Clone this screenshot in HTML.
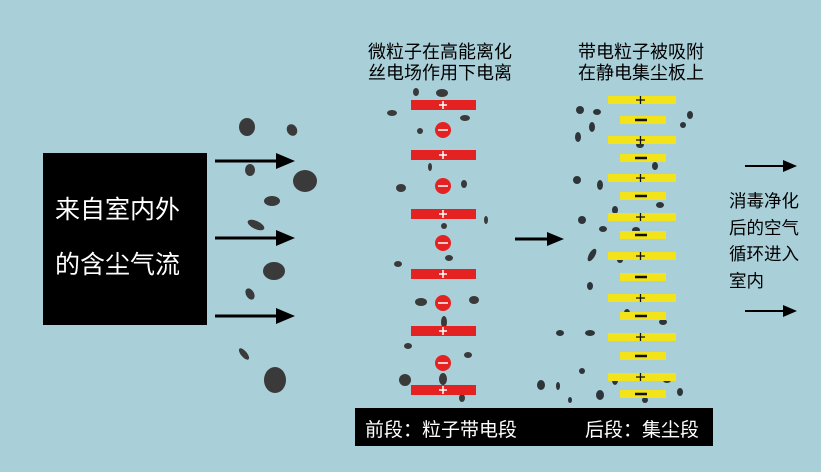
<!DOCTYPE html>
<html><head><meta charset="utf-8"><style>
html,body{margin:0;padding:0}
body{width:821px;height:472px;background:#a9cfd9;position:relative;overflow:hidden;font-family:"Liberation Sans","Noto Sans CJK SC",sans-serif}
.t{position:absolute;white-space:nowrap;color:#000}
</style></head><body>
<svg width="821" height="472" style="position:absolute;left:0;top:0">
<rect x="43" y="153" width="164" height="172" fill="#000"/>
<g stroke="#000" stroke-width="3" fill="#000">
<line x1="215" y1="161" x2="280" y2="161"/><path d="M276,153 L295,161 L276,169z" stroke="none"/>
<line x1="215" y1="238" x2="280" y2="238"/><path d="M276,230 L295,238 L276,246z" stroke="none"/>
<line x1="215" y1="316" x2="280" y2="316"/><path d="M276,308 L295,316 L276,324z" stroke="none"/>
<line x1="515" y1="239" x2="550" y2="239"/><path d="M547,232 L564,239 L547,246z" stroke="none"/>
<line x1="745" y1="166" x2="786" y2="166" stroke-width="2"/><path d="M783,160 L797,166 L783,172z" stroke="none"/>
<line x1="745" y1="311" x2="786" y2="311" stroke-width="2"/><path d="M783,305 L797,311 L783,317z" stroke="none"/>
</g>
<g fill="#3a3a3a">
<ellipse cx="247" cy="127" rx="8" ry="9"/><ellipse cx="292" cy="130" rx="5" ry="6" transform="rotate(-30 292 130)"/>
<ellipse cx="250" cy="170" rx="5" ry="6"/><ellipse cx="305" cy="181" rx="12" ry="11"/>
<ellipse cx="272" cy="201" rx="8" ry="5"/><ellipse cx="256" cy="225" rx="9" ry="4" transform="rotate(25 256 225)"/>
<ellipse cx="274" cy="271" rx="11" ry="9"/><ellipse cx="250" cy="294" rx="4" ry="6" transform="rotate(-30 250 294)"/>
<ellipse cx="244" cy="354" rx="3" ry="7" transform="rotate(-40 244 354)"/><ellipse cx="275" cy="380" rx="11" ry="13"/>
<ellipse cx="416" cy="92" rx="3" ry="4"/><ellipse cx="442" cy="93" rx="6" ry="4"/><ellipse cx="392" cy="113" rx="5" ry="3"/><ellipse cx="465" cy="118" rx="5" ry="3"/>
<ellipse cx="420" cy="131" rx="3" ry="3"/><ellipse cx="401" cy="188" rx="5" ry="4"/><ellipse cx="464" cy="184" rx="3" ry="4"/><ellipse cx="430" cy="167" rx="2" ry="4"/>
<ellipse cx="398" cy="264" rx="4" ry="3"/><ellipse cx="449" cy="258" rx="4" ry="3"/><ellipse cx="421" cy="302" rx="6" ry="4"/><ellipse cx="474" cy="300" rx="5" ry="4"/>
<ellipse cx="444" cy="322" rx="3" ry="6"/><ellipse cx="408" cy="346" rx="4" ry="3"/><ellipse cx="468" cy="355" rx="4" ry="3"/><ellipse cx="405" cy="380" rx="6" ry="6"/><ellipse cx="443" cy="379" rx="4" ry="6"/>
<ellipse cx="462" cy="398" rx="3" ry="4"/><ellipse cx="444" cy="226" rx="3" ry="3"/><ellipse cx="486" cy="220" rx="2" ry="4"/>
</g>
<g fill="#2e3538">
<ellipse cx="580" cy="110" rx="4" ry="4"/><ellipse cx="597" cy="112" rx="4" ry="3"/><ellipse cx="592" cy="127" rx="3" ry="5"/><ellipse cx="578" cy="137" rx="3" ry="5"/>
<ellipse cx="577" cy="180" rx="4" ry="4"/><ellipse cx="600" cy="185" rx="3" ry="5"/><ellipse cx="582" cy="220" rx="4" ry="4"/><ellipse cx="603" cy="229" rx="4" ry="3"/>
<ellipse cx="592" cy="255" rx="3" ry="7" transform="rotate(30 592 255)"/><ellipse cx="590" cy="286" rx="3" ry="4"/><ellipse cx="560" cy="333" rx="4" ry="3"/><ellipse cx="590" cy="333" rx="5" ry="3"/>
<ellipse cx="582" cy="371" rx="3" ry="3"/><ellipse cx="541" cy="385" rx="4" ry="5"/><ellipse cx="558" cy="386" rx="2" ry="4"/><ellipse cx="600" cy="395" rx="4" ry="5"/>
<ellipse cx="570" cy="400" rx="2" ry="3"/><ellipse cx="615" cy="380" rx="3" ry="5"/><ellipse cx="640" cy="145" rx="4" ry="3"/><ellipse cx="655" cy="166" rx="3" ry="4"/>
<ellipse cx="627" cy="195" rx="3" ry="3"/><ellipse cx="660" cy="205" rx="4" ry="3"/><ellipse cx="615" cy="210" rx="3" ry="4"/><ellipse cx="636" cy="230" rx="4" ry="3"/>
<ellipse cx="690" cy="115" rx="3" ry="4"/><ellipse cx="683" cy="125" rx="3" ry="3"/><ellipse cx="663" cy="322" rx="4" ry="3"/><ellipse cx="627" cy="313" rx="3" ry="4"/>
<ellipse cx="667" cy="380" rx="4" ry="3"/><ellipse cx="680" cy="392" rx="3" ry="4"/><ellipse cx="645" cy="400" rx="3" ry="3"/><ellipse cx="620" cy="260" rx="3" ry="3"/>
</g>
<g fill="#e52222">
<rect x="411" y="100" width="65" height="10"/><rect x="411" y="150" width="65" height="10"/><rect x="411" y="209" width="65" height="10"/>
<rect x="411" y="269" width="65" height="10"/><rect x="411" y="326" width="65" height="10"/><rect x="411" y="385" width="65" height="10"/>
<circle cx="443" cy="130" r="8"/><circle cx="443" cy="186" r="8"/><circle cx="443" cy="243" r="8"/><circle cx="443" cy="303" r="8"/><circle cx="443" cy="363" r="8"/>
</g>
<g stroke="#fff" stroke-width="1.5">
<path d="M439,105h8M443,101v8M439,155h8M443,151v8M439,214h8M443,210v8M439,274h8M443,270v8M439,331h8M443,327v8M439,390h8M443,386v8"/>
<path d="M438,130h10M438,186h10M438,243h10M438,303h10M438,363h10"/>
</g>
<g fill="#f2e31a">
<rect x="608" y="96" width="68" height="8"/><rect x="620" y="116" width="46" height="8"/><rect x="608" y="136" width="68" height="8"/><rect x="620" y="154" width="46" height="8"/>
<rect x="608" y="174" width="68" height="8"/><rect x="620" y="192" width="46" height="8"/><rect x="608" y="213" width="68" height="8"/><rect x="620" y="231" width="46" height="8"/>
<rect x="608" y="252" width="68" height="8"/><rect x="620" y="273" width="46" height="8"/><rect x="608" y="294" width="68" height="8"/><rect x="620" y="312" width="46" height="8"/>
<rect x="608" y="333" width="68" height="8"/><rect x="620" y="352" width="46" height="8"/><rect x="608" y="373" width="68" height="8"/><rect x="620" y="390" width="46" height="8"/>
</g>
<g stroke="#111">
<path d="M636,100h9M640.5,96v8M636,140h9M640.5,136v8M636,178h9M640.5,174v8M636,217h9M640.5,213v8M636,256h9M640.5,252v8M636,298h9M640.5,294v8M636,337h9M640.5,333v8M636,377h9M640.5,373v8" stroke-width="1.3"/>
<path d="M635,120h12M635,158h12M635,196h12M635,235h12M635,277h12M635,316h12M635,356h12M635,394h12" stroke-width="2.5"/>
</g>
<rect x="355" y="408" width="358" height="38" fill="#000"/>
</svg>
<div class="t" style="left:55px;top:195px;font-size:25px;color:#fff;line-height:30px">来自室内外</div>
<div class="t" style="left:55px;top:250px;font-size:25px;color:#fff;line-height:30px">的含尘气流</div>
<div class="t" style="left:368px;top:42px;font-size:18px;line-height:21px">微粒子在高能离化<br>丝电场作用下电离</div>
<div class="t" style="left:578px;top:42px;font-size:18px;line-height:21px">带电粒子被吸附<br>在静电集尘板上</div>
<div class="t" style="left:729px;top:188px;font-size:17.5px;line-height:26.5px">消毒净化<br>后的空气<br>循环进入<br>室内</div>
<div class="t" style="left:365px;top:415px;font-size:19px;color:#fff">前段：粒子带电段</div>
<div class="t" style="left:585px;top:415px;font-size:19px;color:#fff">后段：集尘段</div>
</body></html>
